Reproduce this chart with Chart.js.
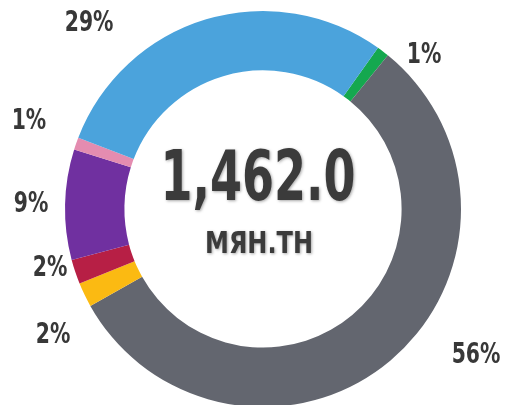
<!DOCTYPE html>
<html lang="mn">
<head>
  <meta charset="UTF-8">
  <title>Donut</title>
  <script src="https://cdn.jsdelivr.net/npm/chart.js"></script>
  <style>
    html, body {
      margin: 0;
      padding: 0;
      background: #fff;
      overflow: hidden;
    }
    #wrap {
      width: 505px;
      height: 405px;
      overflow: hidden;
    }
  </style>
</head>
<body>
<div id="wrap">
  <canvas id="donut" width="505" height="420"></canvas>
</div>

<script>
// slices, clockwise starting at the small green one
const categories = ['green', 'gray', 'yellow', 'red', 'purple', 'pink', 'blue'];
const shares = [1, 56, 2, 2, 9, 1, 29];
const shareLabels = ['1%', '56%', '2%', '2%', '9%', '1%', '29%'];
const sliceColors = ['#15a84f', '#63666f', '#fbba12', '#b71f45', '#7030a0', '#e48cb0', '#4ba3dc'];
const totalText = '1,462.0';
const unitText = 'МЯН.ТН';

// where each % label sits: angle clockwise from top (deg), distance as share of outer radius
const labelSpots = [
  [46.3, 1.125], [124.6, 1.307], [239.0, 1.237], [254.5, 1.116],
  [271.2, 1.172], [290.6, 1.263], [316.8, 1.283]
];

const FONT = '"DejaVu Sans Condensed", "DejaVu Sans", sans-serif';

// condensed look: squeeze text horizontally around its centre
function squeezed(ctx, text, x, y, sx) {
  ctx.save();
  ctx.translate(x, y);
  ctx.scale(sx, 1);
  ctx.fillText(text, 0, 0);
  ctx.restore();
}

const textPlugin = {
  id: 'donutText',
  afterDraw(chart) {
    const arc = chart.getDatasetMeta(0).data[0];
    if (!arc) return;
    const ctx = chart.ctx;
    const cx = arc.x, cy = arc.y, R = arc.outerRadius;
    ctx.save();
    ctx.textAlign = 'center';
    ctx.textBaseline = 'middle';
    ctx.fillStyle = '#383838';
    ctx.font = 'bold 29px ' + FONT;
    shareLabels.forEach((t, i) => {
      const a = labelSpots[i][0] * Math.PI / 180;
      const d = labelSpots[i][1] * R;
      squeezed(ctx, t, cx + d * Math.sin(a), cy - d * Math.cos(a), 0.78);
    });

    // centre text, with a soft shadow
    ctx.shadowColor = 'rgba(0,0,0,0.35)';
    ctx.shadowBlur = 3;
    ctx.shadowOffsetX = 1;
    ctx.shadowOffsetY = 1;
    ctx.fillStyle = '#3b3b3b';
    ctx.font = 'bold 70px ' + FONT;
    squeezed(ctx, totalText, cx - 5, cy - 27, 0.73);
    ctx.font = 'bold 31px ' + FONT;
    squeezed(ctx, unitText, cx - 4, cy + 36, 0.86);
    ctx.restore();
  }
};

new Chart(document.getElementById('donut'), {
  type: 'doughnut',
  data: {
    labels: categories,
    datasets: [{
      data: shares,
      backgroundColor: sliceColors,
      borderWidth: 0
    }]
  },
  options: {
    responsive: false,
    animation: false,
    rotation: 35.5,
    cutout: '70%',
    layout: { padding: { top: 11, bottom: 13, left: 65, right: 44 } },
    plugins: {
      legend: { display: false },
      tooltip: { enabled: false }
    }
  },
  plugins: [textPlugin]
});
</script>
</body>
</html>
